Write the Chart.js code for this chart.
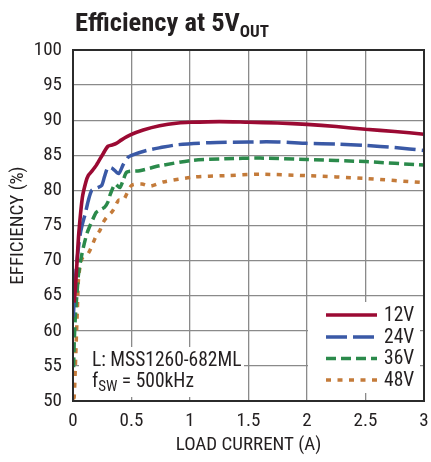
<!DOCTYPE html>
<html><head><meta charset="utf-8">
<script src="https://cdn.jsdelivr.net/npm/chart.js@4"></script>
<style>
html,body{margin:0;padding:0;background:#fff;width:431px;height:462px;overflow:hidden}
#wrap{position:relative;width:431px;height:462px}
canvas{position:absolute;left:0;top:0}
.t{position:absolute;font-family:"Roboto Condensed","Liberation Sans",Arial,sans-serif;color:#231f20;white-space:nowrap}
#title{left:75px;top:4px;font-size:26.5px;font-weight:bold;line-height:36px}
#title sub{font-size:17px;vertical-align:-6px;line-height:0}
#note{left:92px;top:349px;font-size:19.5px;line-height:21px}
#note sub{font-size:15px;vertical-align:-4px;line-height:0}
</style></head><body>
<div id="wrap"><canvas id="c" width="431" height="462"></canvas>
<div class="t" id="title">Efficiency at 5V<sub>OUT</sub></div>
<div class="t" id="note">L: MSS1260-682ML<br>f<sub>SW</sub> = 500kHz</div>
</div>
<script>
const xTicks = [0, 0.5, 1, 1.5, 2, 2.5, 3];
const yTicks = [50, 55, 60, 65, 70, 75, 80, 85, 90, 95, 100];
const seriesNames = ['12V', '24V', '36V', '48V'];

const load12 = [0.01, 0.02, 0.035, 0.05, 0.08, 0.11, 0.13, 0.16, 0.2, 0.26, 0.3, 0.34, 0.37, 0.415, 0.49, 0.6, 0.74, 0.9, 1.0, 1.25, 1.5, 1.75, 2.0, 2.25, 2.5, 2.75, 3.0];
const eff12  = [64, 66, 70, 74, 79, 81.2, 82.1, 82.7, 83.6, 85.3, 86.3, 86.5, 86.7, 87.2, 87.9, 88.6, 89.2, 89.6, 89.7, 89.8, 89.7, 89.6, 89.4, 89.1, 88.7, 88.4, 88.0];

const load24 = [0.003, 0.015, 0.034, 0.062, 0.085, 0.105, 0.13, 0.16, 0.2, 0.245, 0.27, 0.3, 0.34, 0.39, 0.43, 0.47, 0.5, 0.63, 0.75, 0.89, 1.17, 1.5, 1.75, 2.0, 2.25, 2.5, 2.75, 3.0];
const eff24  = [62, 66, 70, 73.8, 75.5, 76.7, 78.5, 80.0, 80.3, 80.7, 82.0, 83.3, 83.1, 82.4, 83.7, 84.7, 85.0, 85.7, 86.1, 86.5, 86.8, 86.9, 86.9, 86.7, 86.6, 86.4, 86.1, 85.7];

const load36 = [0.005, 0.011, 0.02, 0.034, 0.048, 0.077, 0.12, 0.17, 0.2, 0.27, 0.3, 0.32, 0.36, 0.4, 0.43, 0.46, 0.57, 0.74, 1.03, 1.3, 1.6, 2.0, 2.5, 3.0];
const eff36  = [54.8, 58.6, 62, 65.3, 68.2, 71, 73.9, 75.9, 76.9, 77.6, 78.4, 79.5, 80.9, 80.4, 81.5, 82.6, 82.8, 83.5, 84.3, 84.5, 84.6, 84.4, 84.1, 83.6];

const load48 = [0.003, 0.01, 0.02, 0.03, 0.04, 0.048, 0.077, 0.13, 0.2, 0.23, 0.26, 0.29, 0.34, 0.39, 0.43, 0.5, 0.59, 0.66, 0.77, 1.03, 1.3, 1.6, 2.0, 2.5, 3.0];
const eff48  = [50.3, 50.5, 54.8, 59.6, 64.3, 67.6, 70.3, 71.0, 73.6, 74.3, 75.5, 76.2, 77.1, 78.6, 78.6, 80.7, 80.9, 80.6, 81.2, 81.9, 82.1, 82.3, 82.1, 81.7, 81.1];

const pts = (xs, ys) => xs.map((x, i) => ({x: x, y: ys[i]}));
const FONT = '"Roboto Condensed","Liberation Sans",Arial,sans-serif';
const TXT = '#231f20';

const boxesPlugin = {
  id: 'boxes',
  beforeDatasetsDraw(chart) {
    const ctx = chart.ctx, a = chart.chartArea;
    ctx.save();
    ctx.fillStyle = '#ffffff';
    ctx.fillRect(a.left + 6, 347, 165, 50);
    ctx.fillRect(308, 302, a.right - 4 - 308, 91);
    ctx.restore();
  },
  afterDatasetsDraw(chart) {
    const ctx = chart.ctx, a = chart.chartArea;
    ctx.save();
    ctx.strokeStyle = '#2b2b2b';
    ctx.lineWidth = 2;
    ctx.strokeRect(a.left, a.top, a.right - a.left, a.bottom - a.top);
    const rows = [315, 337, 358.5, 380];
    chart.data.datasets.forEach((ds, i) => {
      const y = rows[i];
      ctx.beginPath();
      ctx.strokeStyle = ds.borderColor;
      ctx.lineWidth = ds.borderWidth;
      ctx.setLineDash(ds.borderDash || []);
      ctx.moveTo(326, y);
      ctx.lineTo(377, y);
      ctx.stroke();
      ctx.setLineDash([]);
      ctx.fillStyle = TXT;
      ctx.font = '19.5px ' + FONT;
      ctx.textBaseline = 'middle';
      ctx.textAlign = 'left';
      ctx.fillText(ds.label, 384, y + 1);
    });
    ctx.restore();
  }
};

new Chart(document.getElementById('c'), {
  type: 'line',
  data: {
    datasets: [
      {label: seriesNames[0], data: pts(load12, eff12), borderColor: '#9b0a33', borderWidth: 3.6, borderDash: []},
      {label: seriesNames[1], data: pts(load24, eff24), borderColor: '#3a59a6', borderWidth: 3.5, borderDash: [21, 6]},
      {label: seriesNames[2], data: pts(load36, eff36), borderColor: '#2b8a4b', borderWidth: 3.5, borderDash: [10, 5]},
      {label: seriesNames[3], data: pts(load48, eff48), borderColor: '#c47b3a', borderWidth: 3.5, borderDash: [5, 6.5]}
    ]
  },
  options: {
    responsive: false,
    animation: false,
    devicePixelRatio: 1,
    layout: {padding: {top: 50, right: 7, left: 0, bottom: 0}},
    elements: {point: {radius: 0}, line: {tension: 0.25, borderJoinStyle: 'round', fill: false}},
    plugins: {legend: {display: false}, tooltip: {enabled: false}, title: {display: false}},
    scales: {
      x: {
        type: 'linear', min: 0, max: 3,
        afterBuildTicks: s => { s.ticks = xTicks.map(v => ({value: v})); },
        afterFit: s => { s.height = 61; s.paddingLeft = 0; s.paddingRight = 0; },
        ticks: {padding: 9, color: TXT, font: {family: FONT, size: 19}, maxRotation: 0, callback: v => String(v)},
        grid: {color: '#8a8a8a', lineWidth: 1.3, drawTicks: false},
        border: {display: false},
        title: {display: true, text: 'LOAD CURRENT (A)', color: TXT, font: {family: FONT, size: 19}, padding: {top: 0, bottom: 5}}
      },
      y: {
        type: 'linear', min: 50, max: 100,
        afterBuildTicks: s => { s.ticks = yTicks.map(v => ({value: v})); },
        afterFit: s => { s.width = 73; s.paddingTop = 0; s.paddingBottom = 0; },
        ticks: {padding: 11, color: TXT, font: {family: FONT, size: 19}, callback: v => String(v)},
        grid: {color: '#8a8a8a', lineWidth: 1.3, drawTicks: false},
        border: {display: false},
        title: {display: true, text: 'EFFICIENCY (%)', color: TXT, font: {family: FONT, size: 19}, padding: {top: 7, bottom: 0}}
      }
    }
  },
  plugins: [boxesPlugin]
});
</script>
</body></html>
